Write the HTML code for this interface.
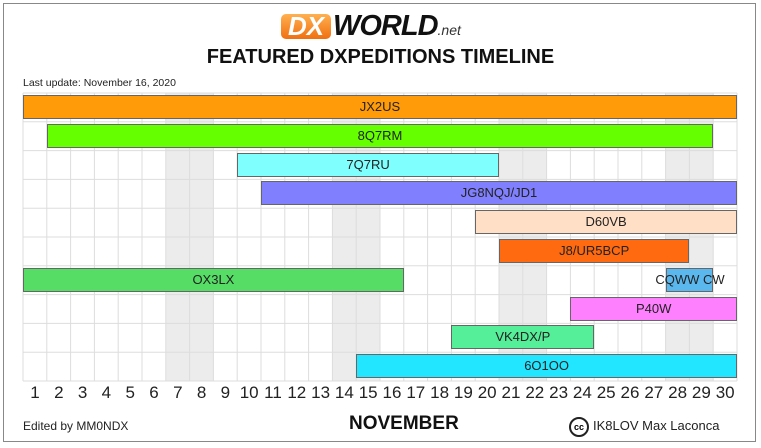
<!DOCTYPE html>
<html><head><meta charset="utf-8"><style>
body{margin:0;width:761px;height:448px;background:#fff;position:relative;overflow:hidden;font-family:"Liberation Sans",Arial,sans-serif}
.a{position:absolute}
.frame{left:3px;top:3px;width:751px;height:437px;border:1px solid #888}
.bar{position:absolute;box-sizing:border-box;border:1px solid #666;font-size:13px;color:#222;text-align:center;line-height:22px;height:24px}
.day{position:absolute;top:383px;width:24px;text-align:center;font-size:17px;color:#222}
</style></head><body>
<div class="a frame"></div>
<div class="a" style="left:281px;top:14px;width:50px;height:25px;background:linear-gradient(#ffb050,#f07010);border-radius:5px;color:#fff;font-weight:bold;font-size:26px;line-height:25px;text-align:center;font-style:italic">DX</div>
<div class="a" style="left:333px;top:10px;font-weight:bold;font-style:italic;font-size:29px;color:#111;letter-spacing:-1px">WORLD<span style="font-size:14px;font-weight:normal;color:#333;letter-spacing:0">.net</span></div>
<div class="a" style="left:0;width:761px;top:46px;text-align:center;font-weight:bold;font-size:20px;color:#111">FEATURED DXPEDITIONS TIMELINE</div>
<div class="a" style="left:23px;top:77px;font-size:10.5px;color:#222">Last update: November 16, 2020</div>
<svg class="a" style="left:0;top:0" width="761" height="448">
<g fill="#ececec">
<rect x="165.8" y="93" width="47.6" height="288"/>
<rect x="332.4" y="93" width="47.6" height="288"/>
<rect x="499" y="93" width="47.6" height="288"/>
<rect x="665.6" y="93" width="47.6" height="288"/>
</g>
<g stroke="#ddd" stroke-width="1" id="g"></g>
</svg>
<div id="bars"></div>
<div class="a" style="left:23px;top:419px;font-size:12px;color:#222">Edited by MM0NDX</div>
<div class="a" style="left:349px;top:413px;font-size:19px;font-weight:bold;color:#111">NOVEMBER</div>
<div class="a" style="left:569px;top:417px;width:16px;height:16px;border:2px solid #222;border-radius:50%;font-size:9px;font-weight:bold;text-align:center;line-height:16px;box-sizing:content-box">cc</div>
<div class="a" style="left:593px;top:418px;font-size:13px;color:#222">IK8LOV Max Laconca</div>
<script>
var L=23,W=23.8,T=93,H=28.8,g=document.getElementById('g'),s='';
for(var i=0;i<=30;i++){var x=L+i*W;s+='<line x1="'+x+'" y1="'+T+'" x2="'+x+'" y2="'+(T+10*H)+'"/>';}
for(var j=0;j<=10;j++){var y=T+j*H;s+='<line x1="'+L+'" y1="'+y+'" x2="'+(L+30*W)+'" y2="'+y+'"/>';}
g.innerHTML=s;
var b=[["JX2US",0,30,0,"#ff9a08"],["8Q7RM",1,29,1,"#66ff00"],["7Q7RU",9,20,2,"#80ffff"],["JG8NQJ/JD1",10,30,3,"#8080ff"],["D60VB",19,30,4,"#ffdfc6"],["J8/UR5BCP",20,28,5,"#ff6a10"],["OX3LX",0,16,6,"#55dd66"],["",27,29,6,"#5bb8ee"],["P40W",23,30,7,"#ff80ff"],["VK4DX/P",18,24,8,"#55ee99"],["6O1OO",14,30,9,"#22e5ff"]];
var h='';
b.forEach(function(r){h+='<div class="bar" style="left:'+(L+r[1]*W)+'px;width:'+((r[2]-r[1])*W)+'px;top:'+(T+r[3]*H+2)+'px;background:'+r[4]+'">'+r[0]+'</div>';});
h+='<div class="a" style="left:652px;top:'+(T+6*H+2)+'px;width:76px;text-align:center;font-size:13px;line-height:24px;color:#222">CQWW CW</div>';
for(var d=1;d<=30;d++)h+='<div class="day" style="left:'+(L+(d-1)*W)+'px">'+d+'</div>';
document.getElementById('bars').innerHTML=h;
</script>
</body></html>
